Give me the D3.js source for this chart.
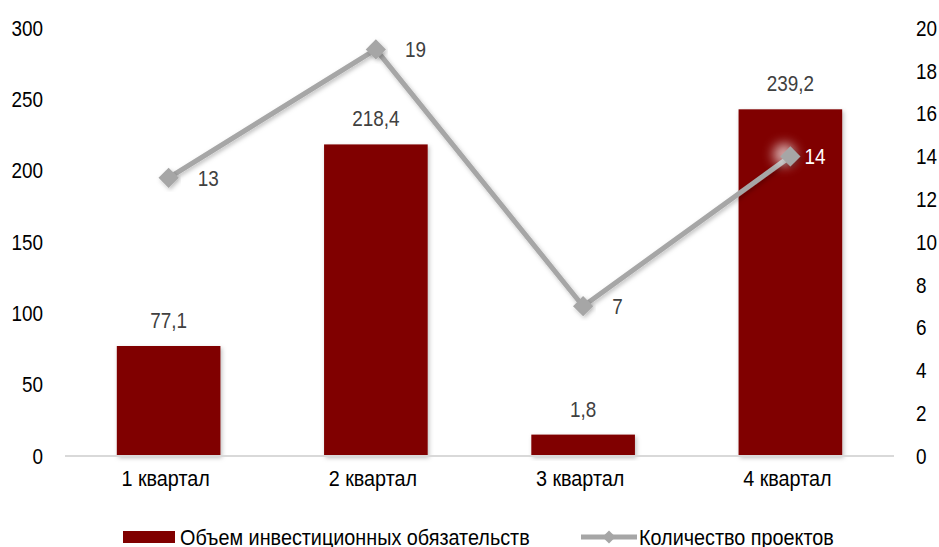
<!DOCTYPE html>
<html>
<head>
<meta charset="utf-8">
<script src="https://cdn.jsdelivr.net/npm/d3@7"></script>
<style>
	body { margin: 0; background: #fff; }
	svg text { font-family: "Liberation Sans", Arial, sans-serif; }
</style>
</head>
<body>
<div id="chart"></div>
<script>
const quarters = ["1 квартал", "2 квартал", "3 квартал", "4 квартал"];
// bar heights as drawn in the picture, and the labels printed above them
const volumes = [77.1, 218.4, 15, 243];
const volumeLabels = ["77,1", "218,4", "1,8", "239,2"];
const projects = [13, 19, 7, 14];
const leftTicks = [0, 50, 100, 150, 200, 250, 300];
const rightTicks = [0, 2, 4, 6, 8, 10, 12, 14, 16, 18, 20];
const barName = "Объем инвестиционных обязательств";
const lineName = "Количество проектов";

const w = 939;
const h = 547;
const plotLeft = 65;
const plotRight = 894;
const plotTop = 28;
const plotBottom = 456;
const fs = 22.5;
const narrow = 0.84; // squeeze Liberation Sans to look like Arial Narrow

const svg = d3.select("#chart").append("svg").attr("width", w).attr("height", h);

const defs = svg.append("defs");
const shadow = defs.append("filter").attr("id", "shadow")
	.attr("x", "-10%").attr("y", "-10%").attr("width", "120%").attr("height", "130%");
shadow.append("feDropShadow").attr("dx", 1.5).attr("dy", 2).attr("stdDeviation", 2)
	.attr("flood-color", "#000").attr("flood-opacity", 0.25);
const glow = defs.append("filter").attr("id", "glow")
	.attr("x", "-100%").attr("y", "-100%").attr("width", "300%").attr("height", "300%");
glow.append("feGaussianBlur").attr("stdDeviation", 6);

const xScale = d3.scaleBand().domain(quarters).range([plotLeft, plotRight])
	.paddingInner(0.5).paddingOuter(0.25);
const yLeft = d3.scaleLinear().domain([0, 300]).range([plotBottom, plotTop]);
const yRight = d3.scaleLinear().domain([0, 20]).range([plotBottom, plotTop]);

// axes (labels only, no domain lines)
const axisL = svg.append("g").attr("transform", `translate(${plotLeft - 22},0)`)
	.call(d3.axisLeft(yLeft).tickValues(leftTicks).tickSize(0).tickPadding(0));
const axisR = svg.append("g").attr("transform", `translate(${plotRight + 22},0)`)
	.call(d3.axisRight(yRight).tickValues(rightTicks).tickSize(0).tickPadding(0));
[axisL, axisR].forEach((g) => {
	g.select(".domain").remove();
	g.selectAll("text").attr("font-size", fs).attr("fill", "#000")
		.attr("font-family", '"Liberation Sans", Arial, sans-serif');
});

// bars
svg.selectAll("rect.bar")
	.data(volumes)
	.enter()
	.append("rect")
	.attr("class", "bar")
	.attr("x", (d, i) => xScale(quarters[i]))
	.attr("y", (d) => yLeft(d))
	.attr("width", xScale.bandwidth())
	.attr("height", (d) => plotBottom - yLeft(d))
	.attr("fill", "#800000")
	.attr("filter", "url(#shadow)");

// baseline
svg.append("line")
	.attr("x1", plotLeft).attr("x2", plotRight)
	.attr("y1", plotBottom).attr("y2", plotBottom)
	.attr("stroke", "#d9d9d9").attr("stroke-width", 2);

// category labels
const xAxis = svg.append("g").attr("transform", `translate(-3,${plotBottom + 14})`)
	.call(d3.axisBottom(xScale).tickSize(0).tickPadding(0));
xAxis.select(".domain").remove();
xAxis.selectAll("text").attr("font-size", fs).attr("fill", "#000").attr("class", "cat")
	.attr("font-family", '"Liberation Sans", Arial, sans-serif');

// bar labels
svg.selectAll("text.vlabel")
	.data(volumes)
	.enter()
	.append("text")
	.attr("class", "vlabel")
	.attr("x", (d, i) => xScale(quarters[i]) + xScale.bandwidth() / 2)
	.attr("y", (d) => yLeft(d) - 18)
	.attr("text-anchor", "middle")
	.attr("font-size", fs)
	.attr("fill", "#404040")
	.text((d, i) => volumeLabels[i]);

// line
const cx = (i) => xScale(quarters[i]) + xScale.bandwidth() / 2;
const line = d3.line().x((d, i) => cx(i)).y((d) => yRight(d));
svg.append("path")
	.datum(projects)
	.attr("d", line)
	.attr("fill", "none")
	.attr("stroke", "#a6a6a6")
	.attr("stroke-width", 5)
	.attr("stroke-linejoin", "round")
	.attr("filter", "url(#shadow)");

// soft white glow behind the last marker
svg.append("circle")
	.attr("cx", cx(3) - 6).attr("cy", yRight(projects[3]) - 2).attr("r", 11)
	.attr("fill", "#fff").attr("opacity", 0.7).attr("filter", "url(#glow)");

const diamond = d3.symbol().type(d3.symbolDiamond2).size(260);
svg.selectAll("path.marker")
	.data(projects)
	.enter()
	.append("path")
	.attr("class", "marker")
	.attr("d", diamond)
	.attr("transform", (d, i) => `translate(${cx(i)},${yRight(d)})`)
	.attr("fill", "#a6a6a6")
	.attr("filter", "url(#shadow)");

svg.selectAll("text.plabel")
	.data(projects)
	.enter()
	.append("text")
	.attr("class", "plabel")
	.attr("x", (d, i) => cx(i) + (i === 3 ? 14 : 29))
	.attr("y", (d) => yRight(d))
	.attr("dy", "0.35em")
	.attr("font-size", fs)
	.attr("fill", (d, i) => (i === 3 ? "#fff" : "#404040"))
	.text((d) => d);

// legend
const lg = svg.append("g").attr("transform", "translate(0,537)");
lg.append("rect").attr("x", 123).attr("y", -6).attr("width", 52).attr("height", 12).attr("fill", "#800000");
lg.append("text").attr("class", "leg1").attr("x", 180).attr("dy", "0.35em").attr("font-size", fs).attr("fill", "#000").text(barName);
lg.append("line").attr("x1", 581).attr("x2", 637).attr("stroke", "#a6a6a6").attr("stroke-width", 5);
lg.append("path").attr("d", d3.symbol().type(d3.symbolDiamond2).size(110)).attr("transform", "translate(609,0)").attr("fill", "#a6a6a6");
lg.append("text").attr("class", "leg2").attr("x", 639).attr("dy", "0.35em").attr("font-size", fs).attr("fill", "#000").text(lineName);

// condense every text
svg.selectAll("text").each(function () {
	const cls = this.getAttribute("class") || "";
	const k = cls === "leg1" || cls === "leg2" || cls === "cat" ? 0.88 : narrow;
	const len = this.getComputedTextLength();
	d3.select(this).attr("textLength", len * k).attr("lengthAdjust", "spacingAndGlyphs");
});
</script>
</body>
</html>
